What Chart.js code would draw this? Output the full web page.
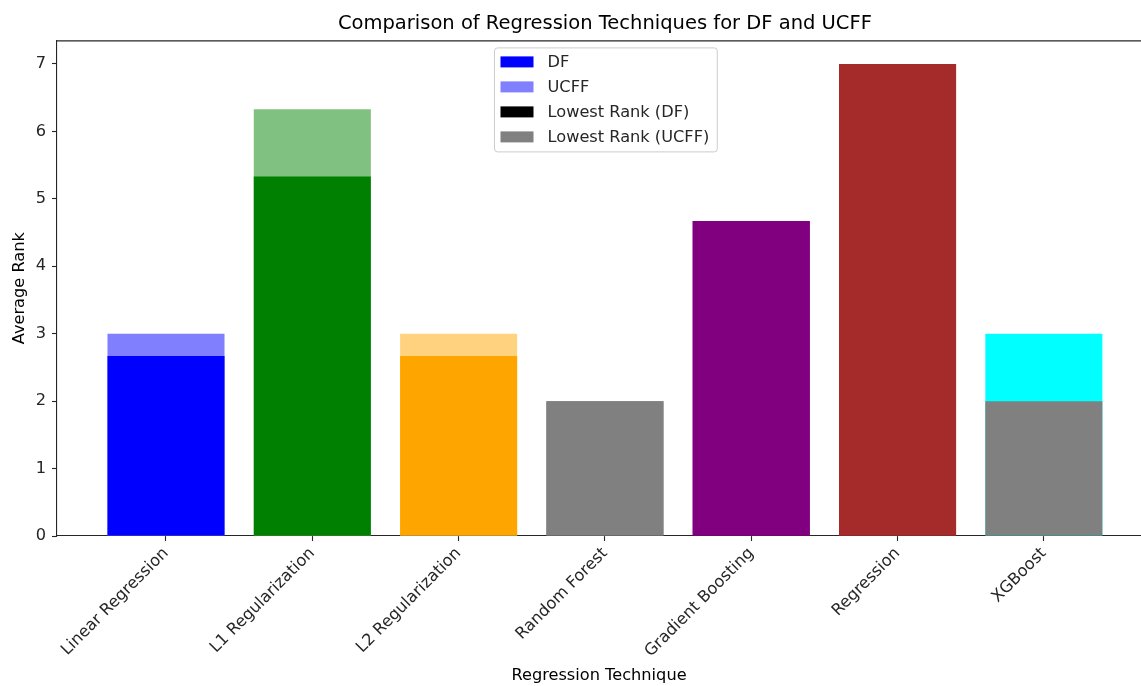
<!DOCTYPE html>
<html>
<head>
<meta charset="utf-8">
<script src="https://cdn.jsdelivr.net/npm/chart.js@4/dist/chart.umd.min.js"></script>
<style>
  html, body { margin: 0; padding: 0; background: #fff; }
  #wrap { width: 1141px; height: 686px; position: relative; }
</style>
</head>
<body>
<div id="wrap"><canvas id="rankChart"></canvas></div>
<script>
// data
const techniques = ['Linear Regression', 'L1 Regularization', 'L2 Regularization', 'Random Forest', 'Gradient Boosting', 'Regression', 'XGBoost'];
const dfRanks = [2.67, 5.33, 2.67, 2, 4.67, 7, 2];
const ucffRanks = [3, 6.33, 3, 2, 4.67, 7, 3];
const dfColors = ['#0000ff', '#008000', '#ffa500', '#808080', '#800080', '#a52a2a', '#808080'];
const ucffColors = ['#8080ff', '#80c080', '#ffd280', '#808080', '#800080', '#a52a2a', '#00ffff'];
const yTicks = [0, 1, 2, 3, 4, 5, 6, 7];
const legendLabels = ['DF', 'UCFF', 'Lowest Rank (DF)', 'Lowest Rank (UCFF)'];
const legendColors = ['#0000ff', '#8080ff', '#000000', '#808080'];

const FONT = 'DejaVu Sans';
const AXIS_COLOR = '#262626';
const SMALL = 16.2;

function toPoints(vals) {
  return vals.map((v, i) => ({x: i, y: v}));
}

// top spine (right one falls outside the picture)
const frame = {
  id: 'frame',
  afterLayout(chart) {
    // the axes run past the right edge, so centre the title over the middle category
    const t = chart.titleBlock;
    if (!t) return;
    const shift = chart.scales.x.getPixelForValue(3) - (t.left + t.right) / 2;
    t.left += shift;
    t.right += shift;
  },
  afterDatasetsDraw(chart) {
    const {ctx, chartArea} = chart;
    ctx.save();
    ctx.strokeStyle = AXIS_COLOR;
    ctx.lineWidth = 1.1;
    ctx.beginPath();
    ctx.moveTo(chartArea.left, chartArea.top + 0.5);
    ctx.lineTo(chartArea.right, chartArea.top + 0.5);
    ctx.stroke();
    ctx.restore();
  }
};

// matplotlib-like legend box, upper center
const boxLegend = {
  id: 'boxLegend',
  afterDraw(chart) {
    const {ctx, chartArea} = chart;
    const cx = chart.scales.x.getPixelForValue(3);
    ctx.save();
    ctx.font = SMALL + 'px "' + FONT + '"';
    let tw = 0;
    legendLabels.forEach(l => { tw = Math.max(tw, ctx.measureText(l).width); });
    const w = 6 + 33 + 14 + tw + 8;
    const h = 104;
    const x0 = Math.round(cx - w / 2) + 0.5;
    const y0 = chartArea.top + 7.5;
    ctx.fillStyle = 'rgba(255,255,255,0.8)';
    ctx.strokeStyle = '#cccccc';
    ctx.lineWidth = 1;
    ctx.beginPath();
    ctx.roundRect(x0, y0, w, h, 3);
    ctx.fill();
    ctx.stroke();
    ctx.textBaseline = 'middle';
    legendLabels.forEach((l, i) => {
      const cy = y0 + 14 + i * 25;
      ctx.fillStyle = legendColors[i];
      ctx.fillRect(x0 + 6, cy - 5.5, 33, 11);
      ctx.fillStyle = AXIS_COLOR;
      ctx.fillText(l, x0 + 6 + 33 + 14, cy + 1);
    });
    ctx.restore();
  }
};

const ctx = document.getElementById('rankChart').getContext('2d');
new Chart(ctx, {
  type: 'bar',
  data: {
    datasets: [
      {
        label: 'DF',
        data: toPoints(dfRanks),
        backgroundColor: dfColors,
        borderWidth: 0,
        barPercentage: 0.8,
        categoryPercentage: 1.0,
        grouped: false
      },
      {
        label: 'UCFF',
        data: toPoints(ucffRanks),
        backgroundColor: ucffColors,
        borderWidth: 0,
        barPercentage: 0.8,
        categoryPercentage: 1.0,
        grouped: false
      }
    ]
  },
  options: {
    responsive: true,
    maintainAspectRatio: false,
    animation: false,
    layout: { padding: { left: 0, right: 0, top: 0, bottom: 0 } },
    plugins: {
      legend: { display: false },
      tooltip: { enabled: false },
      title: {
        display: true,
        text: 'Comparison of Regression Techniques for DF and UCFF',
        color: '#000',
        font: { family: FONT, size: 19.5, weight: 'normal', lineHeight: 1.2 },
        padding: { top: 12, bottom: 5 }
      }
    },
    scales: {
      x: {
        type: 'linear',
        min: -0.745,
        max: 6.664,
        offset: false,
        afterBuildTicks(axis) {
          axis.ticks = techniques.map((_, i) => ({value: i}));
        },
        afterFit(axis) { axis.height = 150; },
        grid: { drawOnChartArea: false, offset: false, tickLength: 5, tickColor: AXIS_COLOR, tickWidth: 1.1 },
        border: { color: AXIS_COLOR, width: 1.1 },
        ticks: {
          autoSkip: false,
          minRotation: 45,
          maxRotation: 45,
          padding: 3,
          color: AXIS_COLOR,
          font: { family: FONT, size: SMALL },
          callback: v => techniques[v]
        },
        title: {
          display: true,
          text: 'Regression Technique',
          color: '#000',
          font: { family: FONT, size: SMALL },
          padding: { top: 0, bottom: 0 }
        }
      },
      y: {
        min: 0,
        max: 7.35,
        afterBuildTicks(axis) {
          axis.ticks = yTicks.map(v => ({value: v}));
        },
        afterFit(axis) { axis.width = 57; },
        grid: { drawOnChartArea: false, tickLength: 5, tickColor: AXIS_COLOR, tickWidth: 1.1 },
        border: { color: AXIS_COLOR, width: 1.1 },
        ticks: {
          padding: 6,
          color: AXIS_COLOR,
          font: { family: FONT, size: SMALL }
        },
        title: {
          display: true,
          text: 'Average Rank',
          color: '#000',
          font: { family: FONT, size: SMALL },
          padding: { top: 10, bottom: 0 }
        }
      }
    }
  },
  plugins: [frame, boxLegend]
});
</script>
</body>
</html>
